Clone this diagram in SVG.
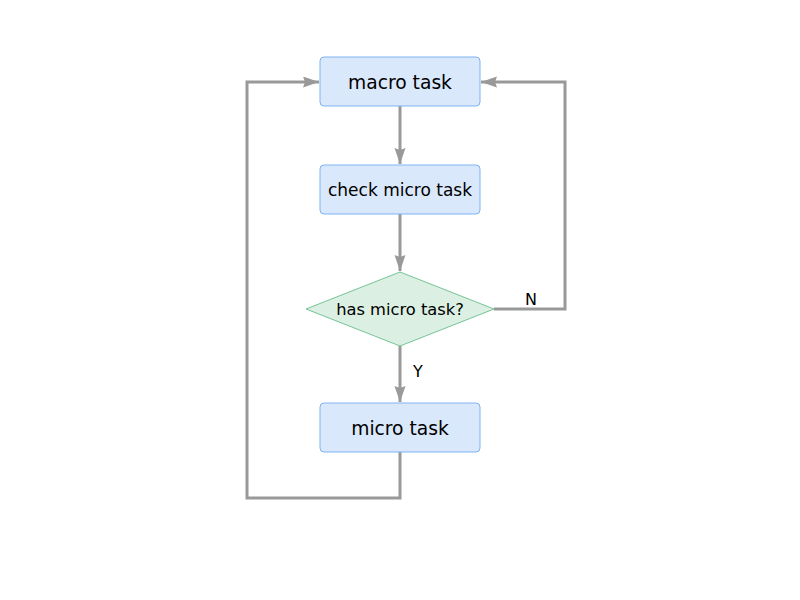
<svg xmlns="http://www.w3.org/2000/svg" width="800" height="600" viewBox="0 0 800 600">
<style>
.box{fill:#dae8fc;stroke:#7eb3f2;stroke-width:1}
.dia{fill:#dbefe2;stroke:#74c597;stroke-width:1}
.lbl{font-family:"DejaVu Sans","Liberation Sans",sans-serif;fill:#000;text-anchor:middle}
.edge{fill:none;stroke:#999999;stroke-width:3}
</style>
<defs>
<marker id="arr" markerUnits="userSpaceOnUse" markerWidth="18" markerHeight="12" refX="16" refY="5.5" orient="auto">
<path d="M0,0 L16,5.5 L0,11 L2,5.5 Z" fill="#999999"/>
</marker>
</defs>
<rect width="800" height="600" fill="#ffffff"/>
<g id="edges">
<path class="edge" d="M400,106 V164" marker-end="url(#arr)"/>
<path class="edge" d="M400,214 V271" marker-end="url(#arr)"/>
<path class="edge" d="M400,346 V402" marker-end="url(#arr)"/>
<path class="edge" d="M494,309 H565 V82 H481" marker-end="url(#arr)"/>
<path class="edge" d="M400,452 V498 H247 V82 H319" marker-end="url(#arr)"/>
<text class="lbl" x="531" y="305" font-size="16">N</text>
<text class="lbl" x="418" y="377" font-size="16">Y</text>
</g>
<g id="macro">
<rect class="box" x="320" y="57" width="160" height="49" rx="4"/>
<text class="lbl" x="400" y="89" font-size="18.7">macro task</text>
</g>
<g id="check">
<rect class="box" x="320" y="165" width="160" height="49" rx="4"/>
<text class="lbl" x="400" y="196" font-size="17">check micro task</text>
</g>
<g id="decision">
<polygon class="dia" points="400,272 494,309 400,346 306,309"/>
<text class="lbl" x="400" y="315" font-size="16.3">has micro task?</text>
</g>
<g id="micro">
<rect class="box" x="320" y="403" width="160" height="49" rx="4"/>
<text class="lbl" x="400" y="435" font-size="18.7">micro task</text>
</g>
</svg>
